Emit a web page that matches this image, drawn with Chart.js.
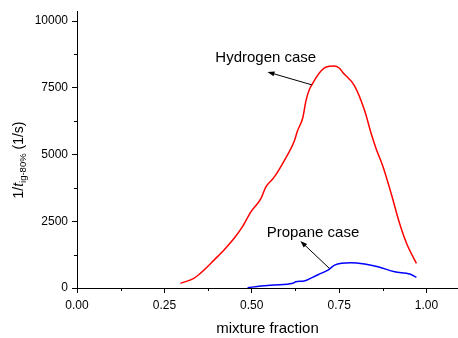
<!DOCTYPE html>
<html>
<head>
<meta charset="utf-8">
<script src="https://cdn.jsdelivr.net/npm/chart.js@4/dist/chart.umd.min.js"></script>
<style>
  html, body { margin: 0; padding: 0; background: #fff; }
  #wrap { width: 458px; height: 338px; }
</style>
</head>
<body>
<div id="wrap"><canvas id="myChart"></canvas></div>
<script>
// data
let h2X = [0.296, 0.334, 0.363, 0.392, 0.420, 0.449, 0.473, 0.497, 0.526, 0.540, 0.564, 0.593, 0.622, 0.631, 0.646, 0.655, 0.665, 0.672, 0.684, 0.698, 0.713, 0.736, 0.750, 0.761, 0.794, 0.823, 0.842, 0.856, 0.876, 0.899, 0.923, 0.943, 0.971];
let h2Y = [175, 362, 671, 1045, 1418, 1855, 2287, 2846, 3346, 3779, 4152, 4774, 5520, 5893, 6380, 7012, 7449, 7609, 7882, 8132, 8281, 8318, 8243, 8068, 7572, 6639, 5770, 5211, 4525, 3532, 2413, 1667, 921];
let c3X = [0.488, 0.526, 0.564, 0.617, 0.626, 0.650, 0.674, 0.698, 0.718, 0.737, 0.784, 0.823, 0.861, 0.909, 0.952, 0.971];
let c3Y = [10, 75, 112, 175, 235, 261, 400, 548, 671, 858, 944, 895, 795, 608, 522, 400];
let xTicks = [0, 0.25, 0.5, 0.75, 1.0];
let yTicks = [0, 2500, 5000, 7500, 10000];
let xMinor = [0.125, 0.375, 0.625, 0.875];
let yMinor = [1250, 3750, 6250, 8750];
// annotations: text [x, y], arrow tail [x, y], arrow head [x, y]
let notes = [
    { text: "Hydrogen case", at: [0.540, 8616], from: [0.672, 7609], to: [0.545, 8094] },
    { text: "Propane case", at: [0.675, 2052], from: [0.722, 735], to: [0.639, 1764] }
];

function pts(xs, ys){
    return xs.map(function(x, i){ return {x: x, y: ys[i]}; });
}

const FONT = "'Liberation Sans', Arial, sans-serif";

let extras = {
    id: "extras",
    afterDraw(chart){
        let c = chart.ctx, xs = chart.scales.x, ys = chart.scales.y;
        let x0 = chart.chartArea.left, y0 = chart.chartArea.bottom;
        c.save();
        c.strokeStyle = "#000000";
        c.lineWidth = 1;
        // minor tick marks
        xMinor.forEach(function(v){
            let px = Math.round(xs.getPixelForValue(v)) + 0.5;
            c.beginPath(); c.moveTo(px, y0); c.lineTo(px, y0 + 3); c.stroke();
        });
        yMinor.forEach(function(v){
            let py = Math.round(ys.getPixelForValue(v)) + 0.5;
            c.beginPath(); c.moveTo(x0, py); c.lineTo(x0 - 3, py); c.stroke();
        });
        // annotations
        c.fillStyle = "#000";
        c.font = "15px " + FONT;
        c.textAlign = "center";
        c.textBaseline = "middle";
        notes.forEach(function(n){
            c.fillText(n.text, xs.getPixelForValue(n.at[0]), ys.getPixelForValue(n.at[1]));
            let ax = xs.getPixelForValue(n.from[0]), ay = ys.getPixelForValue(n.from[1]);
            let bx = xs.getPixelForValue(n.to[0]), by = ys.getPixelForValue(n.to[1]);
            let ang = Math.atan2(by - ay, bx - ax);
            c.beginPath(); c.moveTo(ax, ay); c.lineTo(bx - 5 * Math.cos(ang), by - 5 * Math.sin(ang)); c.stroke();
            c.beginPath();
            c.moveTo(bx, by);
            c.lineTo(bx - 7 * Math.cos(ang) + 2.5 * Math.sin(ang), by - 7 * Math.sin(ang) - 2.5 * Math.cos(ang));
            c.lineTo(bx - 7 * Math.cos(ang) - 2.5 * Math.sin(ang), by - 7 * Math.sin(ang) + 2.5 * Math.cos(ang));
            c.closePath(); c.fill();
        });
        // y axis title: 1/t_ig-80% (1/s)
        c.translate(18, 160);
        c.rotate(-Math.PI / 2);
        c.textBaseline = "alphabetic";
        c.textAlign = "left";
        let parts = [
            { s: "1/", f: "14px " + FONT, dy: 0 },
            { s: "t", f: "italic 14px " + FONT, dy: 0 },
            { s: "ig-80%", f: "9.5px " + FONT, dy: 3 },
            { s: " (1/s)", f: "14px " + FONT, dy: 0 }
        ];
        let w = 0;
        parts.forEach(function(p){ c.font = p.f; w += c.measureText(p.s).width; });
        let cx = -w / 2;
        parts.forEach(function(p){
            c.font = p.f;
            c.fillText(p.s, cx, 5 + p.dy);
            cx += c.measureText(p.s).width;
        });
        c.restore();
    }
};

let axisGrid = {
    display: true,
    drawOnChartArea: false,
    drawTicks: true,
    tickLength: 5,
    tickColor: "#000",
    tickWidth: 1,
    color: "#000"
};

let myChart = document.getElementById("myChart").getContext("2d");
let fuelChart = new Chart(myChart, {
    type: "line",
    data: {
        datasets: [{
            data: pts(h2X, h2Y),
            borderColor: "#ff0000",
            borderWidth: 1.5,
            pointRadius: 0,
            cubicInterpolationMode: "monotone",
            fill: false
        }, {
            data: pts(c3X, c3Y),
            borderColor: "#0000ff",
            borderWidth: 1.5,
            pointRadius: 0,
            cubicInterpolationMode: "monotone",
            fill: false
        }]
    },
    options: {
        responsive: true,
        maintainAspectRatio: false,
        animation: false,
        layout: { padding: { top: 0, right: 0, left: 0, bottom: 0 } },
        plugins: {
            legend: { display: false },
            title: { display: false },
            tooltip: { enabled: false }
        },
        scales: {
            x: {
                type: "linear",
                min: 0,
                max: 1.09,
                afterBuildTicks: function(axis){
                    axis.ticks = xTicks.map(function(v){ return {value: v}; });
                },
                ticks: {
                    color: "#000",
                    font: { family: FONT, size: 12 },
                    padding: 5,
                    maxRotation: 0,
                    callback: function(value){ return value.toFixed(2); }
                },
                grid: axisGrid,
                border: { display: true, color: "#000", width: 1 },
                title: {
                    display: true,
                    text: "mixture fraction",
                    color: "#000",
                    font: { family: FONT, size: 15 },
                    padding: { top: 6, bottom: 0 }
                },
                afterFit: function(axis){ axis.height = 50; }
            },
            y: {
                type: "linear",
                min: 0,
                max: 10370,
                afterBuildTicks: function(axis){
                    axis.ticks = yTicks.map(function(v){ return {value: v}; });
                },
                ticks: {
                    color: "#000",
                    font: { family: FONT, size: 12 },
                    padding: 4,
                    callback: function(value){ return value; }
                },
                grid: axisGrid,
                border: { display: true, color: "#000", width: 1 },
                afterFit: function(axis){ axis.width = 77; }
            }
        }
    },
    plugins: [extras]
});
</script>
</body>
</html>
